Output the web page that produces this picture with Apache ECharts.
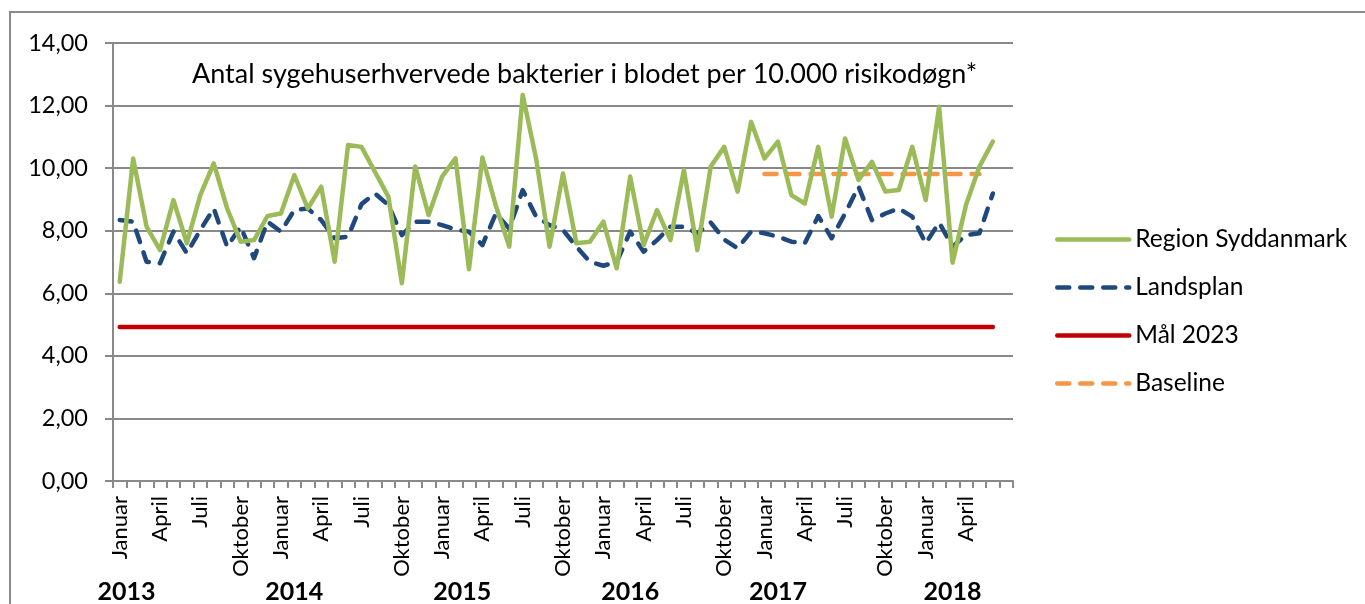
<!DOCTYPE html>
<html>
<head>
<meta charset="utf-8">
<script src="https://cdn.jsdelivr.net/npm/echarts@6/dist/echarts.min.js"></script>
<style>
  html, body { margin: 0; padding: 0; background: #fff; }
  #main { position: absolute; left: 0; top: 0; width: 1365px; height: 604px; }
  #frame { position: absolute; left: 9px; top: 11px; width: 1360px; height: 600px;
           border-left: 2px solid #8a8a8a; border-top: 2px solid #8a8a8a; pointer-events: none; }
</style>
</head>
<body>
<div id="main"></div>
<div id="frame"></div>
<script>
// maaneder jan 2013 - jul 2018 (sidste kategori uden data)
var monthNames = ['Januar', 'Februar', 'Marts', 'April', 'Maj', 'Juni',
                  'Juli', 'August', 'September', 'Oktober', 'November', 'December'];
var years = ['2013', '2014', '2015', '2016', '2017', '2018'];
var monthsInLastYear = 7;

// Region Syddanmark, jan 2013 - jun 2018
var regionSyd = [
    6.37, 10.31, 8.13, 7.38, 8.98, 7.60, 9.14, 10.15, 8.71, 7.65, 7.70, 8.47,
    8.55, 9.78, 8.71, 9.41, 7.01, 10.74, 10.68, 9.88, 9.09, 6.32, 10.05, 8.50,
    9.73, 10.31, 6.77, 10.34, 8.80, 7.49, 12.34, 10.30, 7.49, 9.83, 7.60, 7.65,
    8.29, 6.80, 9.73, 7.54, 8.66, 7.70, 9.94, 7.38, 10.05, 10.68, 9.25, 11.48,
    10.31, 10.85, 9.14, 8.87, 10.68, 8.45, 10.95, 9.62, 10.20, 9.25, 9.30, 10.68,
    8.98, 11.96, 6.98, 8.82, 10.05, 10.85
];
// Landsplan
var landsplan = [
    8.34, 8.29, 7.01, 6.96, 7.97, 7.28, 8.02, 8.71, 7.49, 8.13, 7.12, 8.29,
    7.97, 8.66, 8.71, 8.34, 7.76, 7.81, 8.85, 9.19, 8.82, 7.86, 8.29, 8.29,
    8.18, 8.04, 7.97, 7.54, 8.55, 8.07, 9.30, 8.45, 8.18, 8.02, 7.49, 7.01,
    6.88, 7.00, 7.97, 7.33, 7.70, 8.13, 8.13, 7.92, 8.26, 7.72, 7.44, 7.97,
    7.92, 7.81, 7.65, 7.60, 8.47, 7.76, 8.55, 9.41, 8.34, 8.55, 8.71, 8.45,
    7.60, 8.26, 7.49, 7.86, 7.92, 9.19
];
// Maal 2023: [maanedsindeks, vaerdi] for start og slut
var maal2023 = [[0, 4.92], [65, 4.92]];
// Baseline: jan 2017 - maj 2018
var baseline = [[48, 9.81], [64, 9.81]];

var yTicks = [0, 2, 4, 6, 8, 10, 12, 14];

var categories = [];
years.forEach(function (y, yi) {
    var n = yi === years.length - 1 ? monthsInLastYear : 12;
    for (var m = 0; m < n; m++) {
        categories.push(monthNames[m] + ' ' + y);
    }
});

// hvor aarstallene staar under akserne (maanedsindeks)
var yearLabelAt = [0.5, 13, 25.5, 38, 49, 62];

var FONT = 'Lato';
var chart = echarts.init(document.getElementById('main'));

// maanedsnavne: hver 3. maaned, kun hvor der er data
function monthLabel(v) {
    if (v % 1 !== 0 || v % 3 !== 0 || v < 0 || v >= regionSyd.length) return '';
    return categories[v].split(' ')[0];
}

var option = {
    animation: false,
    title: {
        text: 'Antal sygehuserhvervede bakterier i blodet per 10.000 risikodøgn*',
        left: 192,
        top: 61,
        padding: 0,
        textStyle: { fontFamily: FONT, fontSize: 27, fontWeight: 'normal', color: '#000' }
    },
    legend: {
        orient: 'vertical',
        left: 1055,
        top: 227,
        padding: 0,
        itemWidth: 72,
        itemHeight: 14,
        itemGap: 23,
        itemStyle: { opacity: 0 },
        lineStyle: { width: 4.5 },
        textStyle: { fontFamily: FONT, fontSize: 24.5, color: '#000', padding: [0, 0, 0, 1] },
        data: ['Region Syddanmark', 'Landsplan', 'Mål 2023', 'Baseline']
    },
    grid: [
        { left: 113, right: 352, top: 43, bottom: 123, outerBoundsMode: 'none' },
        // kun til aarstallene
        { left: 113, right: 352, top: 578, height: 1, outerBoundsMode: 'none' },
        // kun til maanedsnavnene
        { left: 113, right: 352, top: 480, height: 1, outerBoundsMode: 'none' }
    ],
    xAxis: [{
        type: 'category',
        gridIndex: 0,
        data: categories,
        axisLine: { lineStyle: { color: '#898989', width: 2 } },
        axisTick: { show: true, interval: 0, length: 7, lineStyle: { color: '#898989', width: 2 } },
        axisLabel: { show: false },
        splitLine: { show: false }
    }, {
        type: 'value',
        gridIndex: 1,
        position: 'bottom',
        min: -0.5,
        max: categories.length - 0.5,
        interval: 0.5,
        axisLine: { show: false },
        axisTick: { show: false },
        splitLine: { show: false },
        axisLabel: {
            margin: 0,
            fontFamily: FONT,
            fontSize: 25,
            fontWeight: 'bold',
            color: '#000',
            showMinLabel: true,
            showMaxLabel: true,
            formatter: function (v) {
                var i = yearLabelAt.indexOf(v);
                return i >= 0 ? years[i] : '';
            }
        }
    }, {
        type: 'value',
        gridIndex: 2,
        position: 'bottom',
        min: -0.5,
        max: categories.length - 0.5,
        interval: 0.5,
        axisLine: { show: false },
        axisTick: { show: false },
        splitLine: { show: false },
        axisLabel: {
            rotate: 90,
            margin: 15,
            fontFamily: FONT,
            fontSize: 22,
            color: '#000',
            showMinLabel: true,
            showMaxLabel: true,
            formatter: monthLabel
        }
    }],
    yAxis: [{
        type: 'value',
        gridIndex: 0,
        min: yTicks[0],
        max: yTicks[yTicks.length - 1],
        interval: 2,
        axisLine: { show: true, lineStyle: { color: '#898989', width: 2 } },
        axisTick: { show: true, length: 8, lineStyle: { color: '#898989', width: 2 } },
        axisLabel: {
            margin: 25,
            fontFamily: FONT,
            fontSize: 23.5,
            color: '#000',
            formatter: function (v) { return v.toFixed(2).replace('.', ','); }
        },
        splitLine: { lineStyle: { color: '#898989', width: 2 } }
    }, {
        type: 'value',
        gridIndex: 1,
        show: false
    }, {
        type: 'value',
        gridIndex: 2,
        show: false
    }],
    series: [{
        name: 'Region Syddanmark',
        type: 'line',
        data: regionSyd,
        symbol: 'none',
        lineStyle: { color: '#9BBB59', width: 4.5, join: 'round', cap: 'round' },
        itemStyle: { color: '#9BBB59' },
        z: 4
    }, {
        name: 'Landsplan',
        type: 'line',
        data: landsplan,
        symbol: 'none',
        lineStyle: { color: '#1F497D', width: 4.5, type: [12, 11], cap: 'round', join: 'round' },
        itemStyle: { color: '#1F497D' },
        z: 3
    }, {
        name: 'Mål 2023',
        type: 'line',
        data: maal2023,
        symbol: 'none',
        lineStyle: { color: '#C00000', width: 4.5, cap: 'round' },
        itemStyle: { color: '#C00000' },
        z: 2
    }, {
        name: 'Baseline',
        type: 'line',
        data: baseline,
        symbol: 'none',
        lineStyle: { color: '#F79646', width: 4.5, type: [12, 11], cap: 'round' },
        itemStyle: { color: '#F79646' },
        z: 2
    }]
};

chart.setOption(option);
</script>
</body>
</html>
